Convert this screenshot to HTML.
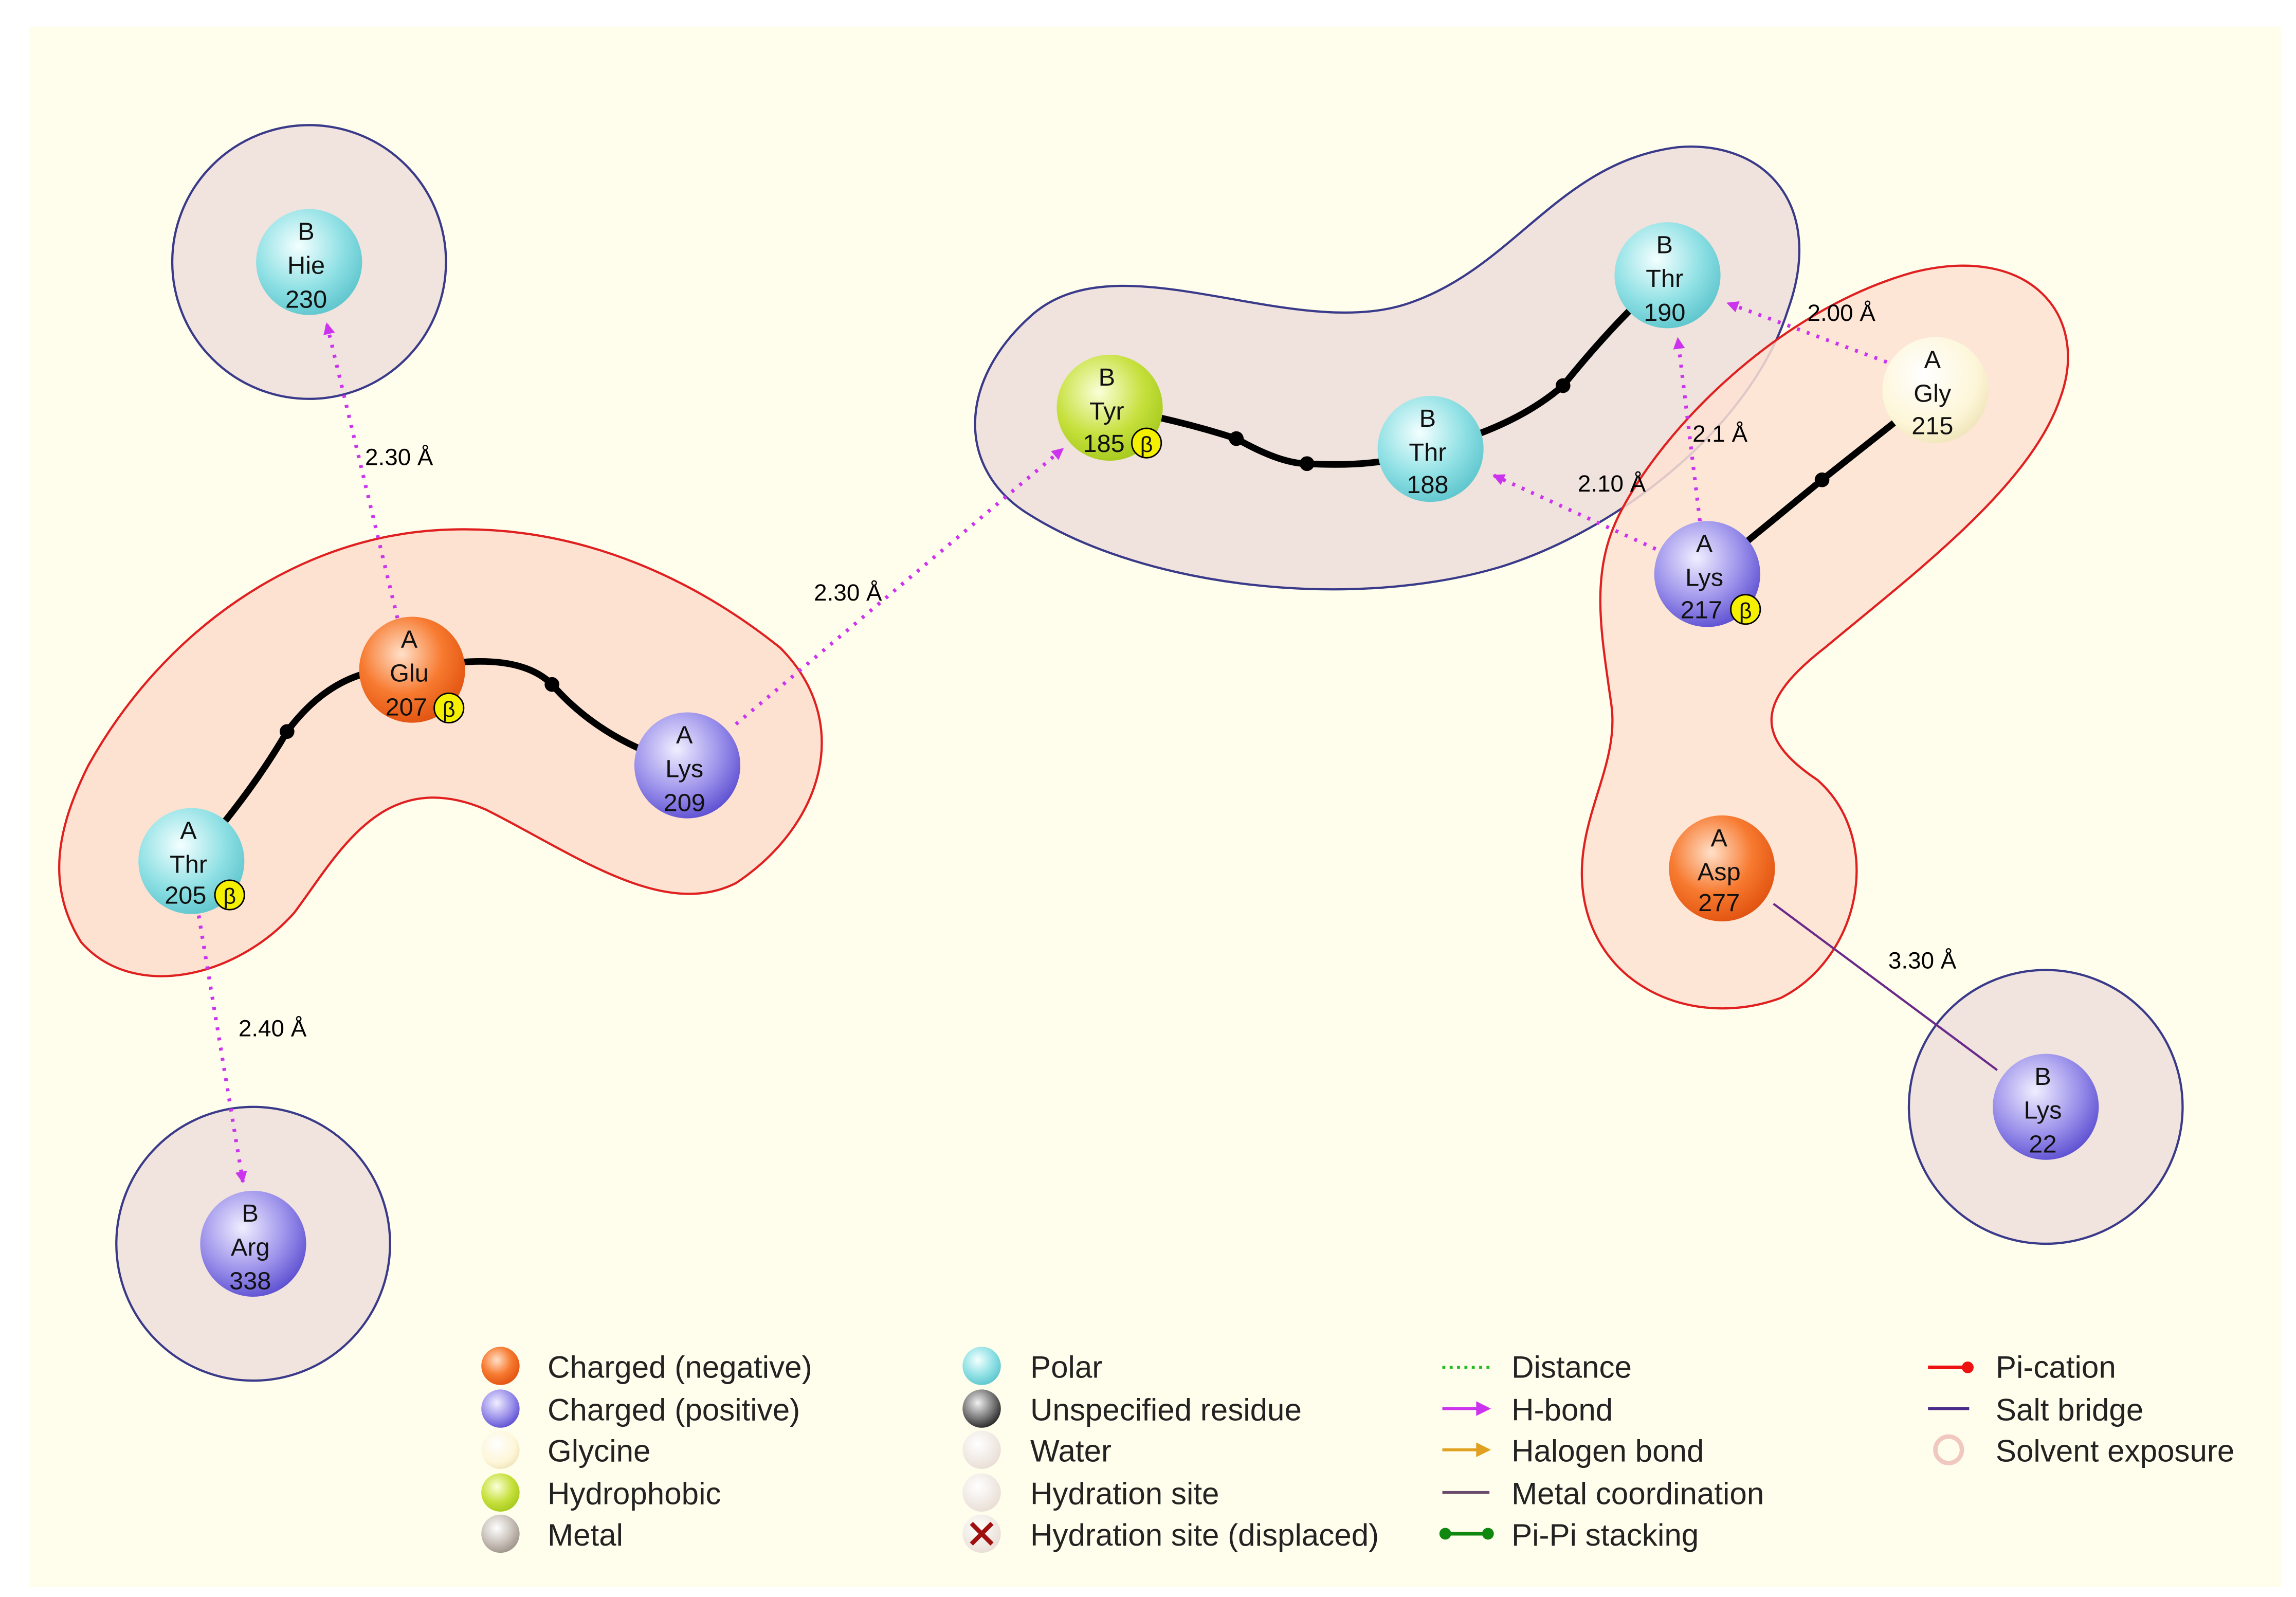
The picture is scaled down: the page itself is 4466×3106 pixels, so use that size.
<!DOCTYPE html>
<html><head><meta charset="utf-8"><style>html,body{margin:0;padding:0;background:#fff}svg{display:block}</style></head>
<body>
<svg width="4466" height="3106" viewBox="0 0 1560 1085" xmlns="http://www.w3.org/2000/svg" font-family="Liberation Sans, sans-serif">
<defs>
<radialGradient id="gc" cx="0.4" cy="0.35" r="0.7"><stop offset="0" stop-color="#f4ffff"/><stop offset="0.6" stop-color="#8ee0e4"/><stop offset="1" stop-color="#5cc4cc"/></radialGradient>
<radialGradient id="go" cx="0.4" cy="0.35" r="0.7"><stop offset="0" stop-color="#ffe0c8"/><stop offset="0.55" stop-color="#f77a30"/><stop offset="1" stop-color="#e0500e"/></radialGradient>
<radialGradient id="gb" cx="0.4" cy="0.35" r="0.7"><stop offset="0" stop-color="#f0eeff"/><stop offset="0.6" stop-color="#9a90ea"/><stop offset="1" stop-color="#5a4cd0"/></radialGradient>
<radialGradient id="gy" cx="0.4" cy="0.35" r="0.7"><stop offset="0" stop-color="#fbffd8"/><stop offset="0.6" stop-color="#c6e03c"/><stop offset="1" stop-color="#a4c81c"/></radialGradient>
<radialGradient id="gw" cx="0.4" cy="0.35" r="0.7"><stop offset="0" stop-color="#ffffff"/><stop offset="0.7" stop-color="#fdf6d8"/><stop offset="1" stop-color="#efe4b8"/></radialGradient>
<radialGradient id="gk" cx="0.4" cy="0.35" r="0.7"><stop offset="0" stop-color="#f0f0f0"/><stop offset="0.6" stop-color="#777"/><stop offset="1" stop-color="#222"/></radialGradient>
<radialGradient id="gm" cx="0.4" cy="0.35" r="0.7"><stop offset="0" stop-color="#fff"/><stop offset="0.6" stop-color="#c8c0b8"/><stop offset="1" stop-color="#9a9088"/></radialGradient>
<radialGradient id="gwa" cx="0.4" cy="0.35" r="0.7"><stop offset="0" stop-color="#fff"/><stop offset="1" stop-color="#e8ddd4"/></radialGradient>
<marker id="ah" markerWidth="8" markerHeight="8" refX="7" refY="4" orient="auto" markerUnits="userSpaceOnUse"><path d="M0,0 L8,4 L0,8 Z" fill="#cc33ee"/></marker>
</defs>
<rect x="20" y="18" width="1530" height="1060" fill="#fffeec"/>
<!-- solvent circles -->
<g fill="#f1e3dd" stroke="#3a3a8a" stroke-width="1.5">
<circle cx="210" cy="178" r="93"/><circle cx="172" cy="845" r="93"/><circle cx="1390" cy="752" r="93"/>
</g>
<!-- blue blob -->
<path d="M700,215 C760,160 880,235 960,205 C1030,180 1060,110 1140,100 C1200,95 1240,140 1215,210 C1190,290 1100,360 1020,385 C920,415 780,400 700,350 C650,320 650,260 700,215 Z" fill="#f0e2dc" stroke="#3a3a8a" stroke-width="1.5"/>
<!-- right red blob -->
<path d="M1100,350 C1130,290 1210,210 1300,185 C1380,165 1420,215 1400,270 C1380,330 1300,390 1240,440 C1195,475 1190,500 1235,530 C1280,570 1265,650 1210,678 C1150,700 1080,670 1075,600 C1072,555 1100,520 1095,480 C1088,430 1080,390 1100,350 Z" fill="#fde2d2" fill-opacity="0.85" stroke="#e02020" stroke-width="1.5"/>
<!-- left red blob -->
<path d="M60,520 C110,430 200,365 300,360 C400,355 480,400 530,440 C580,490 560,560 500,600 C450,625 390,580 330,550 C260,520 230,580 200,620 C160,665 90,680 55,640 C30,600 40,560 60,520 Z" fill="#fde2d2" stroke="#e02020" stroke-width="1.5"/>
<!-- backbones -->
<g fill="none" stroke="#000" stroke-width="4.5">
<path d="M130,585 Q170,540 195,497 Q230,450 280,455"/>
<path d="M280,455 Q350,440 375,465 Q410,505 467,520"/>
<path d="M754,277 Q800,285 840,298 Q870,315 888,315 Q940,318 972,305 Q1030,290 1062,262 Q1100,215 1133,187"/>
<path d="M1160,390 L1238,326 L1315,265"/>
</g>
<g fill="#000"><circle cx="195" cy="497" r="5"/><circle cx="375" cy="465" r="5"/><circle cx="840" cy="298" r="5"/><circle cx="888" cy="315" r="5"/><circle cx="1062" cy="262" r="5"/><circle cx="1238" cy="326" r="5"/></g>
<!-- hbonds -->
<g stroke="#cc33ee" stroke-width="2.5" stroke-dasharray="2,5" fill="none" marker-end="url(#ah)">
<line x1="270" y1="420" x2="222" y2="220"/>
<line x1="135" y1="622" x2="165" y2="803"/>
<line x1="500" y1="492" x2="722" y2="305"/>
<line x1="1282" y1="246" x2="1174" y2="206"/>
<line x1="1155" y1="354" x2="1140" y2="230"/>
<line x1="1125" y1="373" x2="1015" y2="323"/>
</g>
<line x1="1205" y1="614" x2="1357" y2="727" stroke="#6a2a8a" stroke-width="1.5"/>
<g font-size="16" fill="#000">
<text x="248" y="316">2.30 Å</text><text x="162" y="704">2.40 Å</text><text x="553" y="408">2.30 Å</text>
<text x="1228" y="218">2.00 Å</text><text x="1150" y="300">2.1 Å</text><text x="1072" y="334">2.10 Å</text><text x="1283" y="658">3.30 Å</text>
</g>
<!-- nodes -->
<g font-size="17" text-anchor="middle" fill="#111">
<g><circle cx="210" cy="178" r="36" fill="url(#gc)"/><text x="208" y="163">B</text><text x="208" y="186">Hie</text><text x="208" y="209">230</text></g>
<g><circle cx="280" cy="455" r="36" fill="url(#go)"/><text x="278" y="440">A</text><text x="278" y="463">Glu</text><text x="276" y="486">207</text><circle cx="305" cy="481" r="10" fill="#f4f000" stroke="#000"/><text x="305" y="487" font-size="15">β</text></g>
<g><circle cx="467" cy="520" r="36" fill="url(#gb)"/><text x="465" y="505">A</text><text x="465" y="528">Lys</text><text x="465" y="551">209</text></g>
<g><circle cx="130" cy="585" r="36" fill="url(#gc)"/><text x="128" y="570">A</text><text x="128" y="593">Thr</text><text x="126" y="614">205</text><circle cx="156" cy="608" r="10" fill="#f4f000" stroke="#000"/><text x="156" y="614" font-size="15">β</text></g>
<g><circle cx="172" cy="845" r="36" fill="url(#gb)"/><text x="170" y="830">B</text><text x="170" y="853">Arg</text><text x="170" y="876">338</text></g>
<g><circle cx="754" cy="277" r="36" fill="url(#gy)"/><text x="752" y="262">B</text><text x="752" y="285">Tyr</text><text x="750" y="307">185</text><circle cx="779" cy="301" r="10" fill="#f4f000" stroke="#000"/><text x="779" y="307" font-size="15">β</text></g>
<g><circle cx="972" cy="305" r="36" fill="url(#gc)"/><text x="970" y="290">B</text><text x="970" y="313">Thr</text><text x="970" y="335">188</text></g>
<g><circle cx="1133" cy="187" r="36" fill="url(#gc)"/><text x="1131" y="172">B</text><text x="1131" y="195">Thr</text><text x="1131" y="218">190</text></g>
<g><circle cx="1315" cy="265" r="36" fill="url(#gw)"/><text x="1313" y="250">A</text><text x="1313" y="273">Gly</text><text x="1313" y="295">215</text></g>
<g><circle cx="1160" cy="390" r="36" fill="url(#gb)"/><text x="1158" y="375">A</text><text x="1158" y="398">Lys</text><text x="1156" y="420">217</text><circle cx="1186" cy="414" r="10" fill="#f4f000" stroke="#000"/><text x="1186" y="420" font-size="15">β</text></g>
<g><circle cx="1170" cy="590" r="36" fill="url(#go)"/><text x="1168" y="575">A</text><text x="1168" y="598">Asp</text><text x="1168" y="619">277</text></g>
<g><circle cx="1390" cy="752" r="36" fill="url(#gb)"/><text x="1388" y="737">B</text><text x="1388" y="760">Lys</text><text x="1388" y="783">22</text></g>
</g>
<!-- legend -->
<g font-size="21" fill="#222">
<circle cx="340" cy="928" r="13" fill="url(#go)"/><text x="372" y="936">Charged (negative)</text>
<circle cx="340" cy="957" r="13" fill="url(#gb)"/><text x="372" y="965">Charged (positive)</text>
<circle cx="340" cy="985" r="13" fill="url(#gw)"/><text x="372" y="993">Glycine</text>
<circle cx="340" cy="1014" r="13" fill="url(#gy)"/><text x="372" y="1022">Hydrophobic</text>
<circle cx="340" cy="1042" r="13" fill="url(#gm)"/><text x="372" y="1050">Metal</text>
<circle cx="667" cy="928" r="13" fill="url(#gc)"/><text x="700" y="936">Polar</text>
<circle cx="667" cy="957" r="13" fill="url(#gk)"/><text x="700" y="965">Unspecified residue</text>
<circle cx="667" cy="985" r="13" fill="url(#gwa)"/><text x="700" y="993">Water</text>
<circle cx="667" cy="1014" r="13" fill="url(#gwa)"/><text x="700" y="1022">Hydration site</text>
<circle cx="667" cy="1042" r="13" fill="url(#gwa)"/><path d="M660,1035 L674,1049 M674,1035 L660,1049" stroke="#a01010" stroke-width="3"/><text x="700" y="1050">Hydration site (displaced)</text>
<line x1="980" y1="929" x2="1012" y2="929" stroke="#22bb22" stroke-width="2" stroke-dasharray="2,3"/><text x="1027" y="936">Distance</text>
<line x1="980" y1="957" x2="1005" y2="957" stroke="#cc33ee" stroke-width="2"/><path d="M1003,952 L1013,957 L1003,962 Z" fill="#cc33ee"/><text x="1027" y="965">H-bond</text>
<line x1="980" y1="985" x2="1005" y2="985" stroke="#e0a020" stroke-width="2"/><path d="M1003,980 L1013,985 L1003,990 Z" fill="#e0a020"/><text x="1027" y="993">Halogen bond</text>
<line x1="980" y1="1014" x2="1012" y2="1014" stroke="#6a4a6a" stroke-width="2"/><text x="1027" y="1022">Metal coordination</text>
<line x1="980" y1="1042" x2="1012" y2="1042" stroke="#108810" stroke-width="2.5"/><circle cx="982" cy="1042" r="4" fill="#108810"/><circle cx="1011" cy="1042" r="4" fill="#108810"/><text x="1027" y="1050">Pi-Pi stacking</text>
<line x1="1310" y1="929" x2="1338" y2="929" stroke="#ee1111" stroke-width="2.5"/><circle cx="1337" cy="929" r="4" fill="#ee1111"/><text x="1356" y="936">Pi-cation</text>
<line x1="1310" y1="957" x2="1338" y2="957" stroke="#4a2a8a" stroke-width="2"/><text x="1356" y="965">Salt bridge</text>
<circle cx="1324" cy="985" r="9" fill="none" stroke="#f0c8c0" stroke-width="3"/><text x="1356" y="993">Solvent exposure</text>
</g>
</svg>
</body></html>
